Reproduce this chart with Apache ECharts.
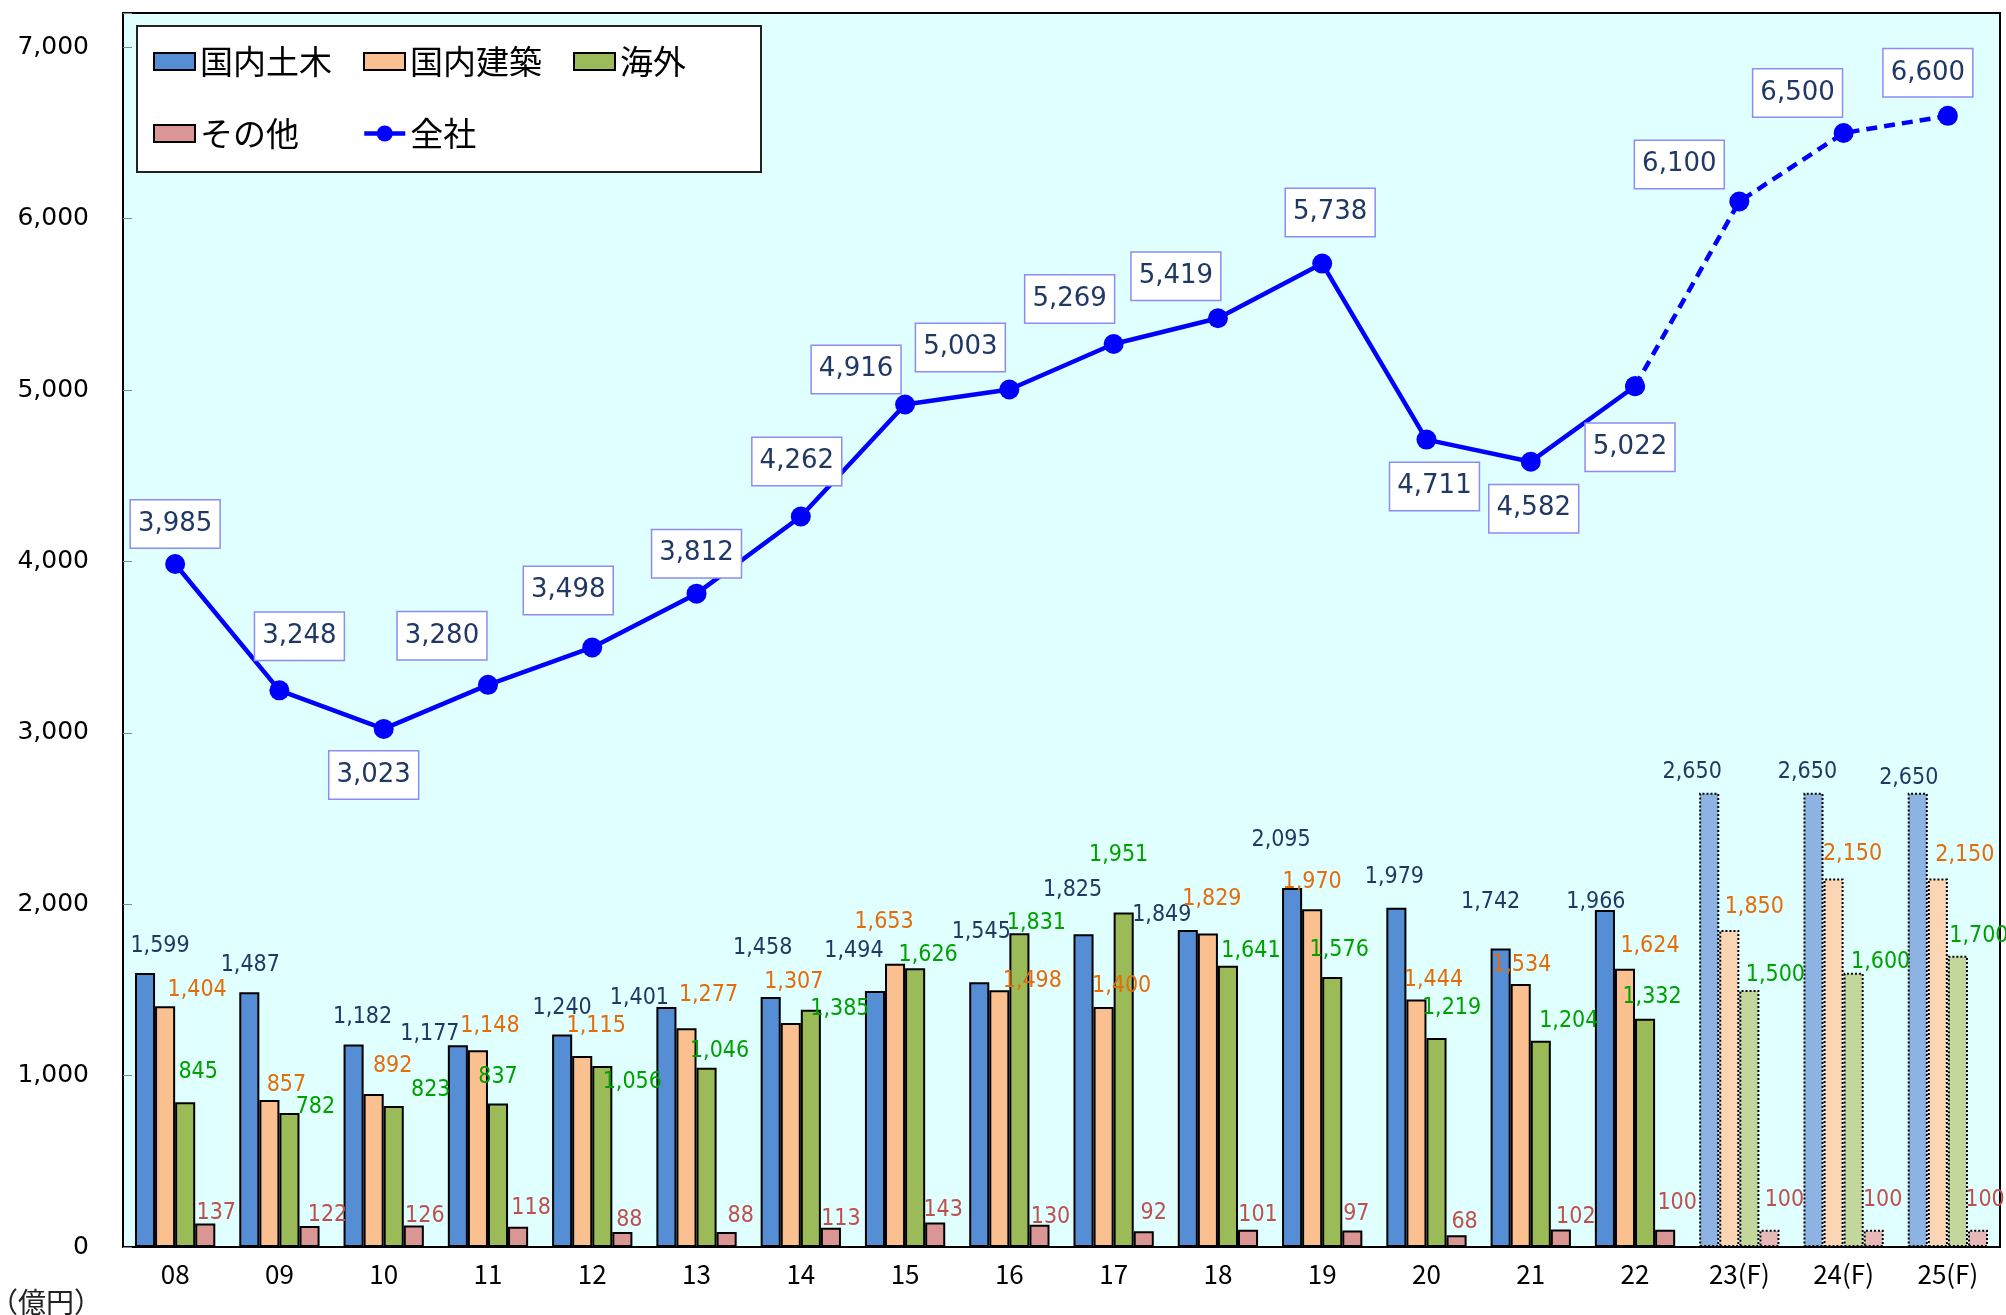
<!DOCTYPE html>
<html><head><meta charset="utf-8">
<script src="https://cdn.jsdelivr.net/npm/echarts@6/dist/echarts.min.js"></script>
<style>html,body{margin:0;padding:0;background:#fff}#c{width:2006px;height:1315px}</style>
</head><body><div id="c"></div>
<script>
// ---- data ----
const categories = ['08','09','10','11','12','13','14','15','16','17','18','19','20','21','22','23(F)','24(F)','25(F)'];
const civil    = [1599,1487,1182,1177,1240,1401,1458,1494,1545,1825,1849,2095,1979,1742,1966,2650,2650,2650];
const building = [1404, 857, 892,1148,1115,1277,1307,1653,1498,1400,1829,1970,1444,1534,1624,1850,2150,2150];
const overseas = [ 845, 782, 823, 837,1056,1046,1385,1626,1831,1951,1641,1576,1219,1204,1332,1500,1600,1700];
const other    = [ 137, 122, 126, 118,  88,  88, 113, 143, 130,  92, 101,  97,  68, 102, 100, 100, 100, 100];
const total    = [3985,3248,3023,3280,3498,3812,4262,4916,5003,5269,5419,5738,4711,4582,5022,6100,6500,6600];
const forecastStart = 15;   // index of first forecast year
const yTickValues = [0,1000,2000,3000,4000,5000,6000,7000];

// ---- label placement (layout only: label centre relative to the mark, px) ----
const totalLabelOffsets = [
  [0,-40],[20,-54],[-10,46],[-46,-49],[-24,-57],[0,-40],[-4,-55],[-49,-35],[-49,-42],
  [-44,-45],[-42,-42],[8,-51],[8,47],[3,47],[-5,61],[-60,-37],[-46,-40],[-20,-43]
];
const civilLabelOffsets = [
  [15,-27],[1,-27],[9,-27],[-28,-11],[0,-26],[-27,-9],[-8,-49],[-21,-40],[2,-50],
  [-11,-44],[-26,-15],[-11,-48],[-2,-31],[-10,-46],[-9,-8],[-17,-21],[-6,-21],[-9,-15]
];
const buildingLabelOffsets = [
  [32,-16],[17,-15],[19,-28],[12,-24],[14,-30],[22,-33],[3,-41],[-11,-42],[33,-9],
  [18,-21],[4,-34],[0,-27],[17,-19],[1,-19],[25,-23],[25,-23],[19,-24],[27,-23]
];
const overseasLabelOffsets = [
  [13,-30],[26,-6],[37,-16],[0,-27],[30,16],[13,-17],[29,-1],[13,-13],[17,-10],
  [-5,-58],[23,-15],[7,-27],[15,-30],[28,-20],[7,-22],[26,-15],[27,-11],[21,-20]
];
const otherLabelOffsets = [
  [11,-10],[18,-11],[11,-9],[13,-19],[7,-12],[14,-16],[10,-9],[8,-12],[11,-8],
  [10,-18],[10,-15],[4,-16],[8,-13],[15,-12],[12,-27],[15,-30],[9,-30],[7,-30]
];

const fmt = v => Number(v).toLocaleString('en-US');
const NUM_FONT = 'DejaVu Sans';
const BAR_LABEL_FONT = '"DejaVu Sans Condensed", "DejaVu Sans"';
const CJK_FONT = 'Noto Sans CJK JP';
const BAR_LABEL_SIZE = 23;

function barSeries(name, values, color, lightColor, labelColor, offsets) {
  return {
    name, type: 'bar', barGap: '0%', barCategoryGap: '23%', z: 2,
    itemStyle: { color, borderColor: '#000', borderWidth: 2 },
    label: { show: true, position: 'top', distance: 0,
      formatter: p => fmt(p.value), color: labelColor, fontFamily: BAR_LABEL_FONT, fontSize: BAR_LABEL_SIZE },
    data: values.map((v, i) => {
      const item = { value: v, label: { offset: [offsets[i][0], offsets[i][1] + BAR_LABEL_SIZE / 2] } };
      if (i >= forecastStart) item.itemStyle = { color: lightColor, borderColor: '#000', borderWidth: 2, borderType: 'dotted' };
      return item;
    })
  };
}

const lineLabel = {
  show: true, position: 'inside', formatter: p => fmt(p.value),
  color: '#1F3864', fontFamily: NUM_FONT, fontSize: 26,
  backgroundColor: '#fff', borderColor: '#8C8CF5', borderWidth: 1.5, padding: [11, 7, 10, 7]
};

const legendText = { fontFamily: CJK_FONT, fontSize: 33, color: '#000' };

const chart = echarts.init(document.getElementById('c'), null, { renderer: 'canvas' });
chart.setOption({
  animation: false,
  backgroundColor: '#fff',
  grid: { left: 123, right: 6, top: 13, bottom: 68, show: true, backgroundColor: '#E0FFFF', borderColor: '#000', borderWidth: 2 },
  graphic: [
    { type: 'rect', z: 5, shape: { x: 137, y: 26, width: 624, height: 146 },
      style: { fill: '#fff', stroke: '#222', lineWidth: 2 } },
    { type: 'text', z: 5, left: -10, top: 1288,
      style: { text: '（億円）', font: '28px "Noto Sans CJK JP"', fill: '#222' } }
  ],
  legend: [
    { data: ['国内土木','国内建築','海外'], left: 153, top: 45, padding: 0, z: 10, icon: 'rect',
      itemWidth: 41, itemHeight: 17, itemGap: 31, textStyle: legendText },
    { data: ['その他'], left: 153, top: 117, padding: 0, z: 10, icon: 'rect',
      itemWidth: 41, itemHeight: 17, textStyle: legendText },
    { data: ['全社'], left: 362, top: 117, padding: 0, z: 10,
      itemWidth: 41, itemHeight: 20, lineStyle: { width: 4.5 }, textStyle: legendText }
  ],
  xAxis: {
    type: 'category', data: categories,
    axisLine: { lineStyle: { color: '#000', width: 2 } },
    axisTick: { show: false },
    axisLabel: { margin: 14, color: '#000', fontFamily: CJK_FONT, fontSize: 26 }
  },
  yAxis: {
    type: 'value', min: yTickValues[0], max: 7200, interval: 1000,
    axisLine: { show: true, lineStyle: { color: '#000', width: 2 } },
    axisTick: { show: true, inside: true, length: 9, lineStyle: { color: '#888' } },
    splitLine: { show: false },
    axisLabel: { margin: 34, color: '#000', fontFamily: NUM_FONT, fontSize: 25,
      formatter: v => yTickValues.includes(v) ? fmt(v) : '' }
  },
  series: [
    barSeries('国内土木', civil,    '#558ED5', '#8DB3E2', '#203864', civilLabelOffsets),
    barSeries('国内建築', building, '#FAC090', '#FCD5B4', '#E46C0A', buildingLabelOffsets),
    barSeries('海外',     overseas, '#9BBB59', '#C3D69B', '#00A000', overseasLabelOffsets),
    barSeries('その他',   other,    '#D99694', '#E6B9B8', '#C0504D', otherLabelOffsets),
    {
      name: '全社', type: 'line', z: 5, symbol: 'circle', symbolSize: 20, showAllSymbol: true,
      itemStyle: { color: '#0000FF' }, lineStyle: { color: '#0000FF', width: 4.5 },
      label: lineLabel,
      data: total.map((v, i) => i < forecastStart ? { value: v, label: { offset: totalLabelOffsets[i] } } : '-')
    },
    {
      name: '全社', type: 'line', z: 5, symbol: 'circle', symbolSize: 20, showAllSymbol: true,
      itemStyle: { color: '#0000FF' }, lineStyle: { color: '#0000FF', width: 4.5, type: [11, 7] },
      label: lineLabel,
      data: total.map((v, i) => i >= forecastStart - 1
        ? { value: v, label: { show: i >= forecastStart, offset: totalLabelOffsets[i] } } : '-')
    }
  ]
});
</script></body></html>
